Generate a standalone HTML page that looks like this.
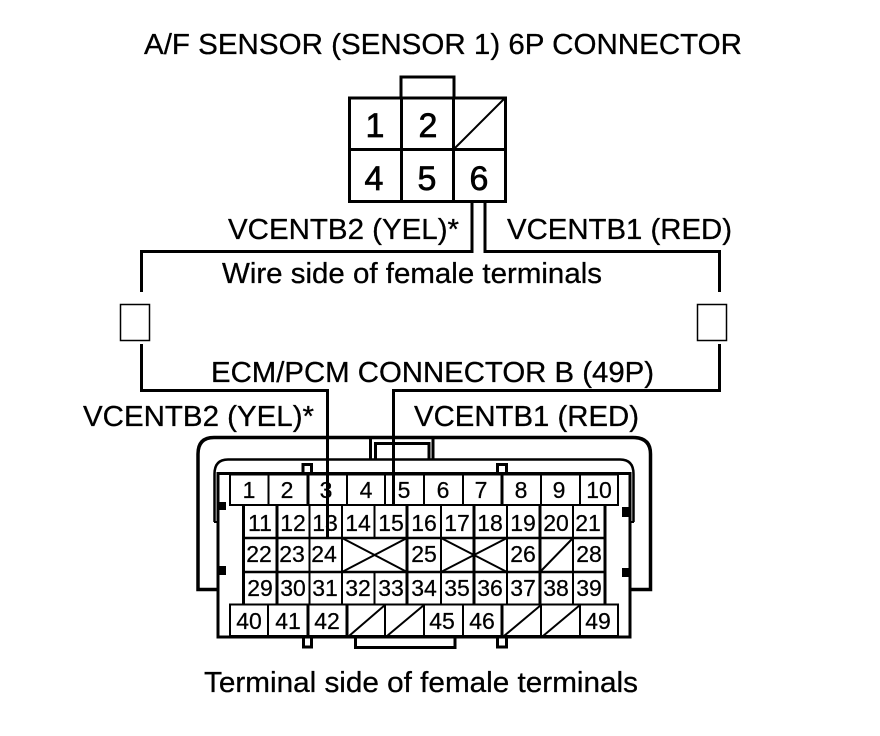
<!DOCTYPE html>
<html>
<head>
<meta charset="utf-8">
<style>
html,body{margin:0;padding:0;background:#fff}
svg{display:block}
text{font-family:"Liberation Sans",sans-serif;fill:#000;stroke:#000}
.t{font-size:29px;stroke-width:.3}
.d{font-size:34px;text-anchor:middle;stroke-width:.7}
.n{font-size:23px;text-anchor:middle;stroke-width:.25}
</style>
</head>
<body>
<svg width="880" height="736" viewBox="0 0 880 736" xmlns="http://www.w3.org/2000/svg">
<rect width="880" height="736" fill="#fff"/>

<!-- titles -->
<text class="t" x="144" y="54" textLength="598" lengthAdjust="spacingAndGlyphs">A/F SENSOR (SENSOR 1) 6P CONNECTOR</text>
<text class="t" x="228" y="239" textLength="231" lengthAdjust="spacingAndGlyphs">VCENTB2 (YEL)*</text>
<text class="t" x="507" y="239" textLength="225" lengthAdjust="spacingAndGlyphs">VCENTB1 (RED)</text>
<text class="t" x="222" y="283" textLength="380" lengthAdjust="spacingAndGlyphs">Wire side of female terminals</text>
<text class="t" x="211" y="382" textLength="443" lengthAdjust="spacingAndGlyphs">ECM/PCM CONNECTOR B (49P)</text>
<text class="t" x="83" y="426" textLength="231" lengthAdjust="spacingAndGlyphs">VCENTB2 (YEL)*</text>
<text class="t" x="414" y="426" textLength="225" lengthAdjust="spacingAndGlyphs">VCENTB1 (RED)</text>
<text class="t" x="204" y="692" textLength="434" lengthAdjust="spacingAndGlyphs">Terminal side of female terminals</text>

<!-- top connector -->
<g fill="none" stroke="#000" stroke-width="3">
<path d="M401 97V77H454V97"/>
<rect x="349.500" y="98" width="156" height="103.500"/>
<path d="M401.500 98V201M453.500 98V201M350 149.500H505"/>
</g>
<path d="M454 149L505 98" stroke="#000" stroke-width="2" fill="none"/>
<text class="d" x="375" y="137">1</text>
<text class="d" x="428" y="137">2</text>
<text class="d" x="374" y="190">4</text>
<text class="d" x="427" y="190">5</text>
<text class="d" x="479" y="190">6</text>

<!-- wires -->
<g fill="none" stroke="#000" stroke-width="3">
<path d="M472 202V251.500H141.500V292"/>
<path d="M485 202V251.500H719.500V292"/>
<path d="M141.500 344V390.500H327.500V538"/>
<path d="M719.500 344V390.500H393.500V505"/>
</g>
<g fill="#fff" stroke="#000" stroke-width="1.500">
<rect x="120.500" y="304.500" width="29" height="36"/>
<rect x="697.500" y="304.500" width="29" height="36"/>
</g>

<!-- ECM connector shell -->
<g fill="none" stroke="#000" stroke-width="3">
<path d="M218 589.500H198V454Q198 437.500 214 437.500H633Q650.500 437.500 650.500 454V589.500H630" stroke-width="3.500"/>
<path d="M370.500 438V459M433 438V459"/>
<path d="M375.500 459V443.500H429V459"/>
<path d="M218 473.500H630V637H218Z"/>
<path d="M303 473V464.500H311.500V473M497.500 473V464.500H506.500V473"/>
<path d="M303.500 637V647H311.500V637M497.500 637V647H506.500V637"/>
<path d="M355.500 637V647.500H455V637"/>
</g>
<path d="M214.500 522V474Q214.500 459.500 228 459.500H620Q633.500 459.500 633.500 474V522" fill="none" stroke="#000" stroke-width="2.500"/>
<path d="M214 522H218M630 522H634" stroke="#000" stroke-width="2" fill="none"/>
<g fill="#000">
<rect x="218" y="502" width="8" height="8"/>
<rect x="218" y="566" width="8" height="9"/>
<rect x="622" y="507" width="8" height="10"/>
<rect x="622" y="568" width="8" height="9"/>
</g>

<!-- row 1 grid -->
<g fill="none" stroke="#000" stroke-width="2">
<path d="M230 474.500H618V505H230Z"/>
<path d="M268.500 474V505M347 474V505M385 474V505M424 474V505M463 474V505M541 474V505M580 474V505"/>
<path d="M308 474V505M502 474V505" stroke-width="3"/>
<!-- rows 2-4 -->
<path d="M243.500 505V604M605 505V604" stroke-width="3"/>
<path d="M243 538H605M243 572H605" stroke-width="2.500"/>
<path d="M277 505V604M407 505V604M474 505V604M540 505V604" stroke-width="3"/>
<path d="M309.500 505V604M342 505V604M441 505V604M507 505V604M573 505V604"/>
<path d="M374.500 505V538M374.500 572V604"/>
<path d="M342 538L407 572M407 538L342 572M441 538L507 572M507 538L441 572"/>
<path d="M540 572L573 538"/>
<!-- row 5 -->
<path d="M230 604.500H618V636H230Z"/>
<path d="M268 604V636M385 604V636M424 604V636M463 604V636M541 604V636M580 604V636"/>
<path d="M308 604V636M347 604V636M502 604V636" stroke-width="3"/>
<path d="M349 636L385 605M387 636L424 605M504 636L541 605M543 636L580 605"/>
</g>
<path d="M327.500 474V538" stroke="#000" stroke-width="2" fill="none"/>

<!-- row 1 labels -->
<text class="n" x="249" y="498">1</text>
<text class="n" x="287" y="498">2</text>
<text class="n" x="326" y="498">3</text>
<text class="n" x="366" y="498">4</text>
<text class="n" x="404" y="498">5</text>
<text class="n" x="443" y="498">6</text>
<text class="n" x="481" y="498">7</text>
<text class="n" x="521" y="498">8</text>
<text class="n" x="559" y="498">9</text>
<text class="n" x="599" y="498">10</text>
<!-- row 2 -->
<text class="n" x="260" y="531">11</text>
<text class="n" x="293" y="531">12</text>
<text class="n" x="325" y="531">13</text>
<text class="n" x="358" y="531">14</text>
<text class="n" x="391" y="531">15</text>
<text class="n" x="424" y="531">16</text>
<text class="n" x="457" y="531">17</text>
<text class="n" x="490" y="531">18</text>
<text class="n" x="523" y="531">19</text>
<text class="n" x="556" y="531">20</text>
<text class="n" x="588" y="531">21</text>
<!-- row 3 -->
<text class="n" x="259" y="562">22</text>
<text class="n" x="292" y="562">23</text>
<text class="n" x="324" y="562">24</text>
<text class="n" x="424" y="562">25</text>
<text class="n" x="523" y="562">26</text>
<text class="n" x="589" y="562">28</text>
<!-- row 4 -->
<text class="n" x="260" y="596">29</text>
<text class="n" x="293" y="596">30</text>
<text class="n" x="325" y="596">31</text>
<text class="n" x="358" y="596">32</text>
<text class="n" x="391" y="596">33</text>
<text class="n" x="424" y="596">34</text>
<text class="n" x="457" y="596">35</text>
<text class="n" x="490" y="596">36</text>
<text class="n" x="523" y="596">37</text>
<text class="n" x="556" y="596">38</text>
<text class="n" x="589" y="596">39</text>
<!-- row 5 -->
<text class="n" x="249" y="629">40</text>
<text class="n" x="288" y="629">41</text>
<text class="n" x="327" y="629">42</text>
<text class="n" x="442" y="629">45</text>
<text class="n" x="482" y="629">46</text>
<text class="n" x="598" y="629">49</text>
</svg>
</body>
</html>
